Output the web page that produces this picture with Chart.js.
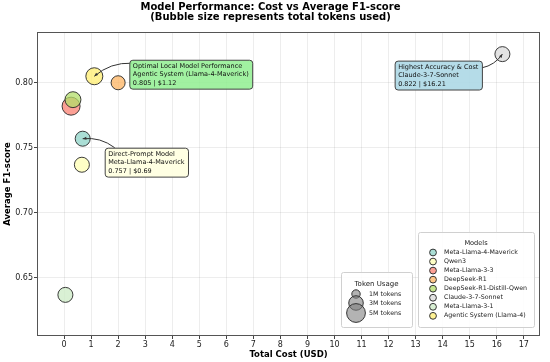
<!DOCTYPE html>
<html>
<head>
<meta charset="utf-8">
<script src="https://cdn.jsdelivr.net/npm/chart.js@4.4.1/dist/chart.umd.min.js"></script>
<style>
  html, body { margin: 0; padding: 0; background: #fff; }
  #wrap { width: 550px; height: 362px; }
</style>
</head>
<body>
<div id="wrap"><canvas id="myChart"></canvas></div>
<script>
// data
const models = ['Meta-Llama-4-Maverick', 'Qwen3', 'Meta-Llama-3-3', 'DeepSeek-R1',
  'DeepSeek-R1-Distill-Qwen', 'Claude-3-7-Sonnet', 'Meta-Llama-3-1', 'Agentic System (Llama-4)'];
const costs = [0.69, 0.66, 0.26, 2.0, 0.33, 16.21, 0.05, 1.12];
const f1Scores = [0.757, 0.737, 0.782, 0.800, 0.787, 0.822, 0.637, 0.805];
const tokensM = [3.2, 3.2, 4.6, 2.8, 3.6, 3.2, 3.2, 4.1]; // millions
const xTicks = [0, 1, 2, 3, 4, 5, 6, 7, 8, 9, 10, 11, 12, 13, 14, 15, 16, 17];
const yTicks = [0.65, 0.70, 0.75, 0.80];
const legendTokens = [1, 3, 5];
const noteModel = [7, 0, 5];
const noteLines = [
  ['Optimal Local Model Performance', 'Agentic System (Llama-4-Maverick)'],
  ['Direct-Prompt Model', 'Meta-Llama-4-Maverick'],
  ['Highest Accuracy & Cost', 'Claude-3-7-Sonnet']
];

const colors = ['#8dd3c7', '#ffffb3', '#fb8072', '#fdb462', '#b3de69', '#d9d9d9', '#ccebc5', '#ffed6f'];
const FONT = '"DejaVu Sans", sans-serif';

function rgba(hex, a) {
  const n = parseInt(hex.slice(1), 16);
  return 'rgba(' + (n >> 16) + ',' + ((n >> 8) & 255) + ',' + (n & 255) + ',' + a + ')';
}
function radius(t) { return 4.2 * Math.sqrt(t); }

// note boxes: offset from the point, where the arrow leaves the box
const noteStyle = [
  { dx: 35, dy: -16.5, side: 'left', ax: 0.02, ay: 0.12, bg: 'rgba(144,238,144,0.85)' },
  { dx: 22, dy: 9, side: 'left', ax: 0.12, ay: 0, bg: 'rgba(255,255,224,0.9)' },
  { dx: -20.5, dy: 6.5, side: 'right', ax: 1, ay: 0.25, bg: 'rgba(173,216,230,0.9)' }
];

function roundRect(ctx, x, y, w, h, r) {
  ctx.beginPath();
  ctx.moveTo(x + r, y);
  ctx.lineTo(x + w - r, y);
  ctx.quadraticCurveTo(x + w, y, x + w, y + r);
  ctx.lineTo(x + w, y + h - r);
  ctx.quadraticCurveTo(x + w, y + h, x + w - r, y + h);
  ctx.lineTo(x + r, y + h);
  ctx.quadraticCurveTo(x, y + h, x, y + h - r);
  ctx.lineTo(x, y + r);
  ctx.quadraticCurveTo(x, y, x + r, y);
  ctx.closePath();
}

const framePlugin = {
  id: 'frame',
  beforeDatasetsDraw(chart) {
    const { ctx, chartArea: a } = chart;
    ctx.save();
    ctx.strokeStyle = '#555';
    ctx.lineWidth = 1;
    ctx.strokeRect(Math.round(a.left) + 0.5, Math.round(a.top) + 0.5,
      Math.round(a.right - a.left) - 1, Math.round(a.bottom - a.top) - 1);
    ctx.restore();
  }
};

const notesPlugin = {
  id: 'notes',
  afterDatasetsDraw(chart) {
    const ctx = chart.ctx;
    const xs = chart.scales.x, ys = chart.scales.y;
    ctx.save();
    ctx.font = '6.5px ' + FONT;
    noteModel.forEach((m, k) => {
      const st = noteStyle[k];
      const px = xs.getPixelForValue(costs[m]);
      const py = ys.getPixelForValue(f1Scores[m]);
      const lines = noteLines[k].concat([f1Scores[m].toFixed(3) + ' | $' + costs[m].toFixed(2)]);
      const w = Math.max(...lines.map(l => ctx.measureText(l).width)) + 7;
      const lh = 8.3;
      const h = lines.length * lh + 4;
      const bx = st.side === 'left' ? px + st.dx : px + st.dx - w;
      const by = py + st.dy;
      // arrow
      const sx = bx + st.ax * w, sy = by + st.ay * h;
      const ddx = px - sx, ddy = py - sy;
      const cx = (sx + px) / 2 - 0.2 * ddy, cy = (sy + py) / 2 + 0.2 * ddx;
      ctx.strokeStyle = '#333';
      ctx.fillStyle = '#333';
      ctx.lineWidth = 1;
      ctx.beginPath();
      ctx.moveTo(sx, sy);
      ctx.quadraticCurveTo(cx, cy, px, py);
      ctx.stroke();
      const ang = Math.atan2(py - cy, px - cx);
      ctx.beginPath();
      ctx.moveTo(px, py);
      ctx.lineTo(px - 4 * Math.cos(ang - 0.4), py - 4 * Math.sin(ang - 0.4));
      ctx.lineTo(px - 4 * Math.cos(ang + 0.4), py - 4 * Math.sin(ang + 0.4));
      ctx.closePath();
      ctx.fill();
      // box
      roundRect(ctx, bx + 0.5, by + 0.5, w, h, 3);
      ctx.fillStyle = st.bg;
      ctx.fill();
      ctx.strokeStyle = '#444';
      ctx.stroke();
      ctx.fillStyle = '#111';
      ctx.textBaseline = 'middle';
      ctx.textAlign = 'left';
      lines.forEach((l, i) => ctx.fillText(l, bx + 3.5, by + 2.5 + lh * (i + 0.5)));
    });
    ctx.restore();
  }
};

const legendsPlugin = {
  id: 'legends',
  afterDatasetsDraw(chart) {
    const { ctx, chartArea: a } = chart;
    ctx.save();
    // models legend
    ctx.font = '6.3px ' + FONT;
    const mw = Math.max(...models.map(m => ctx.measureText(m).width)) + 33;
    const mh = 95;
    const mx = a.right - 6 - mw, my = a.bottom - 9 - mh;
    roundRect(ctx, mx + 0.5, my + 0.5, mw, mh, 2);
    ctx.fillStyle = 'rgba(255,255,255,0.85)';
    ctx.fill();
    ctx.strokeStyle = '#d0d0d0';
    ctx.lineWidth = 1;
    ctx.stroke();
    ctx.fillStyle = '#222';
    ctx.textBaseline = 'middle';
    ctx.textAlign = 'center';
    ctx.font = '6.6px ' + FONT;
    ctx.fillText('Models', mx + mw / 2, my + 11);
    ctx.textAlign = 'left';
    ctx.font = '6.3px ' + FONT;
    models.forEach((m, i) => {
      const yy = my + 20.5 + i * 9.05;
      ctx.beginPath();
      ctx.arc(mx + 15, yy, 3.4, 0, Math.PI * 2);
      ctx.fillStyle = rgba(colors[i], 0.75);
      ctx.fill();
      ctx.strokeStyle = '#333';
      ctx.stroke();
      ctx.fillStyle = '#222';
      ctx.fillText(m, mx + 26, yy);
    });
    // token usage legend
    const tw = 71, th = 55;
    const tx = mx - 6 - tw, ty = a.bottom - 9 - th;
    roundRect(ctx, tx + 0.5, ty + 0.5, tw, th, 2);
    ctx.fillStyle = 'rgba(255,255,255,0.85)';
    ctx.fill();
    ctx.strokeStyle = '#d0d0d0';
    ctx.stroke();
    ctx.fillStyle = '#222';
    ctx.textAlign = 'center';
    ctx.font = '7px ' + FONT;
    ctx.fillText('Token Usage', tx + tw / 2, ty + 12);
    ctx.textAlign = 'left';
    ctx.font = '6.3px ' + FONT;
    const rows = [ty + 22, ty + 31, ty + 41];
    legendTokens.forEach((t, i) => {
      ctx.beginPath();
      ctx.arc(tx + 15, rows[i], radius(t), 0, Math.PI * 2);
      ctx.fillStyle = 'rgba(128,128,128,0.6)';
      ctx.fill();
      ctx.strokeStyle = '#333';
      ctx.stroke();
    });
    ctx.fillStyle = '#222';
    legendTokens.forEach((t, i) => ctx.fillText(t + 'M tokens', tx + 28, rows[i]));
    ctx.restore();
  }
};

const datasets = models.map((m, i) => ({
  label: m,
  data: [{ x: costs[i], y: f1Scores[i], r: radius(tokensM[i]) }],
  backgroundColor: rgba(colors[i], 0.75),
  borderColor: 'rgba(40,40,40,0.9)',
  borderWidth: 1,
  order: -i
}));

let myChart = document.getElementById('myChart');

const config = {
  type: 'bubble',
  data: { datasets: datasets },
  options: {
    responsive: true,
    maintainAspectRatio: false,
    animation: false,
    layout: { padding: { left: 0, right: 9, top: 0, bottom: 0 } },
    plugins: {
      legend: { display: false },
      tooltip: { enabled: false },
      title: {
        display: true,
        text: ['Model Performance: Cost vs Average F1-score', '(Bubble size represents total tokens used)'],
        font: { family: FONT, size: 10, weight: 'bold', lineHeight: 1.0 },
        color: '#000',
        padding: { top: 2, bottom: 10 }
      }
    },
    scales: {
      x: {
        type: 'linear',
        min: -1,
        max: 17.6,
        afterBuildTicks: s => { s.ticks = xTicks.map(v => ({ value: v })); },
        afterFit: s => { s.height = 26; },
        ticks: { font: { family: FONT, size: 8 }, color: '#222', padding: 1, autoSkip: false, maxRotation: 0 },
        grid: { color: 'rgba(0,0,0,0.07)', tickColor: '#444', tickLength: 3 },
        border: { display: false },
        title: {
          display: true, text: 'Total Cost (USD)', color: '#000',
          font: { family: FONT, size: 8.5, weight: 'bold' },
          padding: { top: 0, bottom: 2 }
        }
      },
      y: {
        type: 'linear',
        min: 0.6054,
        max: 0.839,
        afterBuildTicks: s => { s.ticks = yTicks.map(v => ({ value: v })); },
        afterFit: s => { s.width = 37; },
        ticks: { font: { family: FONT, size: 8 }, color: '#222', padding: 1, callback: v => v.toFixed(2) },
        grid: { color: 'rgba(0,0,0,0.07)', tickColor: '#444', tickLength: 3 },
        border: { display: false },
        title: {
          display: true, text: 'Average F1-score', color: '#000',
          font: { family: FONT, size: 8.5, weight: 'bold' },
          padding: { top: 3, bottom: 0 }
        }
      }
    }
  },
  plugins: [framePlugin, notesPlugin, legendsPlugin]
};

let perfChart = new Chart(myChart, config);
</script>
</body>
</html>
